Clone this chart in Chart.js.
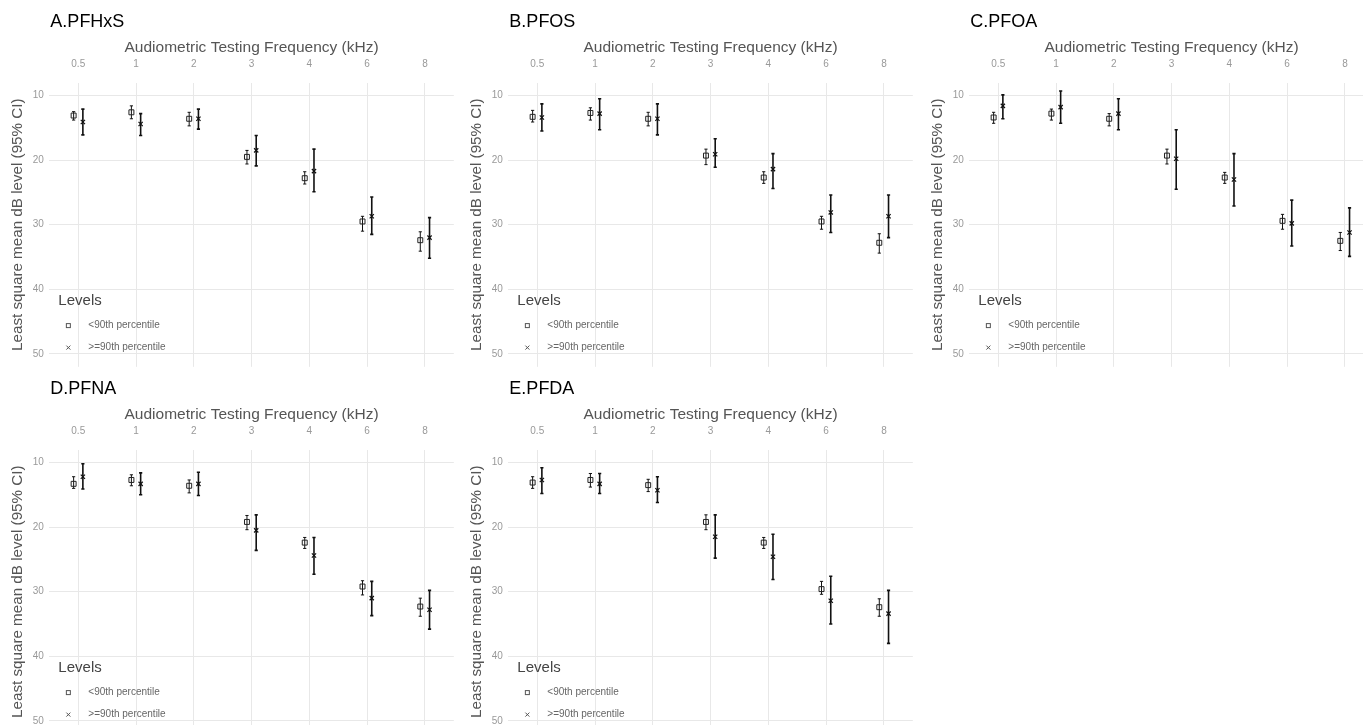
<!DOCTYPE html>
<html>
<head>
<meta charset="utf-8">
<script src="https://cdn.jsdelivr.net/npm/chart.js@4.4.1/dist/chart.umd.min.js"></script>
<style>
  body { margin: 0; background: #fff; width: 1363px; height: 725px; overflow: hidden; position: relative; }
  .panel { position: absolute; width: 459px; height: 372px; }
</style>
</head>
<body>
<div class="panel" style="left:0px;top:0px"><canvas id="c0"></canvas></div>
<div class="panel" style="left:459px;top:0px"><canvas id="c1"></canvas></div>
<div class="panel" style="left:920px;top:0px"><canvas id="c2"></canvas></div>
<div class="panel" style="left:0px;top:367px"><canvas id="c3"></canvas></div>
<div class="panel" style="left:459px;top:367px"><canvas id="c4"></canvas></div>
<script>
// categorias y etiquetas
const freqLabels = ['0.5', '1', '2', '3', '4', '6', '8'];
const yTicks = [10, 20, 30, 40, 50];
const levelNames = ['<90th percentile', '>=90th percentile'];
const panelTitles = ['A.PFHxS', 'B.PFOS', 'C.PFOA', 'D.PFNA', 'E.PFDA'];

// A.PFHxS
const pfhxsBelowMean = [13.1, 12.6, 13.6, 19.5, 22.8, 29.5, 32.4];
const pfhxsBelowLo   = [12.5, 11.6, 12.6, 18.5, 21.8, 28.7, 31.1];
const pfhxsBelowHi   = [13.8, 13.6, 14.7, 20.6, 23.7, 31.0, 34.1];
const pfhxsAboveMean = [14.1, 14.4, 13.6, 18.5, 21.7, 28.7, 32.0];
const pfhxsAboveLo   = [12.1, 12.8, 12.1, 16.2, 18.3, 25.7, 28.9];
const pfhxsAboveHi   = [16.1, 16.2, 15.2, 20.9, 24.9, 31.5, 35.2];
// B.PFOS
const pfosBelowMean = [13.3, 12.7, 13.6, 19.3, 22.7, 29.5, 32.8];
const pfosBelowLo   = [12.3, 11.9, 12.6, 18.3, 21.8, 28.7, 31.4];
const pfosBelowHi   = [14.1, 13.8, 14.7, 20.7, 23.6, 30.7, 34.4];
const pfosAboveMean = [13.4, 12.8, 13.6, 19.1, 21.4, 28.1, 28.7];
const pfosAboveLo   = [11.3, 10.5, 11.3, 16.7, 19.0, 25.4, 25.4];
const pfosAboveHi   = [15.5, 15.3, 16.1, 21.1, 24.4, 31.2, 32.0];
// C.PFOA
const pfoaBelowMean = [13.4, 12.8, 13.6, 19.3, 22.7, 29.4, 32.5];
const pfoaBelowLo   = [12.6, 12.1, 12.8, 18.3, 21.9, 28.4, 31.2];
const pfoaBelowHi   = [14.3, 13.8, 14.7, 20.6, 23.6, 30.7, 34.0];
const pfoaAboveMean = [11.6, 11.8, 12.8, 19.8, 23.0, 29.8, 31.2];
const pfoaAboveLo   = [9.9, 9.3, 10.5, 15.3, 19.0, 26.2, 27.4];
const pfoaAboveHi   = [13.6, 14.3, 15.3, 24.5, 27.1, 33.3, 34.9];
// D.PFNA
const pfnaBelowMean = [13.3, 12.7, 13.6, 19.2, 22.4, 29.2, 32.3];
const pfnaBelowLo   = [12.2, 11.9, 12.7, 18.2, 21.6, 28.3, 31.0];
const pfnaBelowHi   = [14.0, 13.6, 14.7, 20.4, 23.3, 30.5, 33.8];
const pfnaAboveMean = [12.2, 13.3, 13.3, 20.5, 24.4, 31.0, 32.8];
const pfnaAboveLo   = [10.2, 11.6, 11.5, 18.1, 21.6, 28.4, 29.8];
const pfnaAboveHi   = [14.1, 15.0, 15.1, 23.6, 27.3, 33.7, 35.8];
// E.PFDA
const pfdaBelowMean = [13.1, 12.7, 13.5, 19.2, 22.4, 29.6, 32.4];
const pfdaBelowLo   = [12.2, 11.7, 12.6, 18.1, 21.6, 28.4, 31.1];
const pfdaBelowHi   = [14.0, 13.8, 14.5, 20.4, 23.3, 30.4, 33.8];
const pfdaAboveMean = [12.7, 13.3, 14.3, 21.5, 24.6, 31.4, 33.4];
const pfdaAboveLo   = [10.8, 11.7, 12.2, 18.1, 21.1, 27.6, 29.8];
const pfdaAboveHi   = [14.8, 14.8, 16.2, 24.8, 28.1, 35.0, 38.0];

const DODGE = 0.08;
const CAP = 1.6;
Chart.defaults.font.family = '"Liberation Sans", Arial, sans-serif';

// barras de error (IC 95%)
const errorBars = {
    id: 'errorBars',
    beforeDatasetsDraw(chart) {
        const ctx = chart.ctx, xs = chart.scales.x, ys = chart.scales.y;
        chart.data.datasets.forEach(ds => {
            ctx.save();
            ctx.strokeStyle = '#111';
            ctx.lineWidth = ds.errLineWidth;
            ds.data.forEach((p, i) => {
                const px = xs.getPixelForValue(p.x);
                const y1 = ys.getPixelForValue(ds.ci[i][0]);
                const y2 = ys.getPixelForValue(ds.ci[i][1]);
                ctx.beginPath();
                ctx.moveTo(px, y1); ctx.lineTo(px, y2);
                ctx.moveTo(px - CAP, y1); ctx.lineTo(px + CAP, y1);
                ctx.moveTo(px - CAP, y2); ctx.lineTo(px + CAP, y2);
                ctx.stroke();
            });
            ctx.restore();
        });
    }
};

// titulo del panel
const panelTitle = {
    id: 'panelTitle',
    afterDraw(chart, args, opts) {
        const ctx = chart.ctx;
        ctx.save();
        ctx.fillStyle = '#000';
        ctx.font = '18px "Liberation Sans", Arial, sans-serif';
        ctx.textBaseline = 'middle';
        ctx.fillText(opts.text, chart.chartArea.left + 1, 22);
        ctx.restore();
    }
};

// leyenda dentro del area
const levelsLegend = {
    id: 'levelsLegend',
    afterDraw(chart) {
        const ctx = chart.ctx, a = chart.chartArea;
        ctx.save();
        ctx.textBaseline = 'middle';
        ctx.fillStyle = '#444';
        ctx.font = '15px "Liberation Sans", Arial, sans-serif';
        ctx.fillText('Levels', a.left + 9, a.top + 218);
        ctx.font = '10px "Liberation Sans", Arial, sans-serif';
        ctx.fillStyle = '#666';
        ctx.fillText(levelNames[0], a.left + 39, a.top + 243);
        ctx.fillText(levelNames[1], a.left + 39, a.top + 265);
        ctx.strokeStyle = '#555';
        ctx.lineWidth = 1;
        const sx = a.left + 19;
        ctx.strokeRect(sx - 2, a.top + 243 - 2, 4, 4);
        ctx.beginPath();
        ctx.moveTo(sx - 2, a.top + 263); ctx.lineTo(sx + 2, a.top + 267);
        ctx.moveTo(sx + 2, a.top + 263); ctx.lineTo(sx - 2, a.top + 267);
        ctx.stroke();
        ctx.restore();
    }
};

function makePanel(id, title, bMean, bLo, bHi, aMean, aLo, aHi) {
    new Chart(document.getElementById(id), {
        type: 'scatter',
        data: {
            datasets: [{
                label: levelNames[0],
                data: bMean.map((v, i) => ({ x: i - DODGE, y: v })),
                ci: bLo.map((lo, i) => [lo, bHi[i]]),
                errLineWidth: 1,
                pointStyle: 'rect',
                pointRadius: 3.5,
                borderColor: '#222',
                backgroundColor: 'rgba(255,255,255,0)',
                borderWidth: 1
            }, {
                label: levelNames[1],
                data: aMean.map((v, i) => ({ x: i + DODGE, y: v })),
                ci: aLo.map((lo, i) => [lo, aHi[i]]),
                errLineWidth: 1.6,
                pointStyle: 'crossRot',
                pointRadius: 3,
                borderColor: '#111',
                borderWidth: 1.2
            }]
        },
        options: {
            responsive: true,
            maintainAspectRatio: false,
            animation: false,
            layout: { padding: { left: 7, right: 4, top: 35, bottom: 1 } },
            plugins: {
                legend: { display: false },
                tooltip: { enabled: false },
                panelTitle: { text: title }
            },
            scales: {
                x: {
                    type: 'linear', position: 'top', min: -0.5, max: 6.5,
                    afterBuildTicks: s => { s.ticks = freqLabels.map((_, i) => ({ value: i })); },
                    ticks: { callback: (v, i) => freqLabels[i], color: '#999', font: { size: 10 }, padding: 12, autoSkip: false, maxRotation: 0 },
                    grid: { color: '#e8e8e8', drawTicks: false },
                    border: { display: false },
                    title: { display: true, text: 'Audiometric Testing Frequency (kHz)', color: '#555', font: { size: 15.5 }, padding: { top: 3, bottom: -10 } }
                },
                y: {
                    reverse: true, min: 8, max: 52,
                    afterBuildTicks: s => { s.ticks = yTicks.map(v => ({ value: v })); },
                    afterFit: s => { s.paddingTop = 0; s.paddingBottom = 0; },
                    ticks: { color: '#999', font: { size: 10 }, padding: 5.5 },
                    grid: { color: '#e8e8e8', drawTicks: false },
                    border: { display: false },
                    title: { display: true, text: 'Least square mean dB level (95% CI)', color: '#555', font: { size: 15.2 }, padding: { top: 2, bottom: 0 } }
                }
            }
        },
        plugins: [errorBars, panelTitle, levelsLegend]
    });
}

makePanel('c0', panelTitles[0], pfhxsBelowMean, pfhxsBelowLo, pfhxsBelowHi, pfhxsAboveMean, pfhxsAboveLo, pfhxsAboveHi);
makePanel('c1', panelTitles[1], pfosBelowMean, pfosBelowLo, pfosBelowHi, pfosAboveMean, pfosAboveLo, pfosAboveHi);
makePanel('c2', panelTitles[2], pfoaBelowMean, pfoaBelowLo, pfoaBelowHi, pfoaAboveMean, pfoaAboveLo, pfoaAboveHi);
makePanel('c3', panelTitles[3], pfnaBelowMean, pfnaBelowLo, pfnaBelowHi, pfnaAboveMean, pfnaAboveLo, pfnaAboveHi);
makePanel('c4', panelTitles[4], pfdaBelowMean, pfdaBelowLo, pfdaBelowHi, pfdaAboveMean, pfdaAboveLo, pfdaAboveHi);
</script>
</body>
</html>
